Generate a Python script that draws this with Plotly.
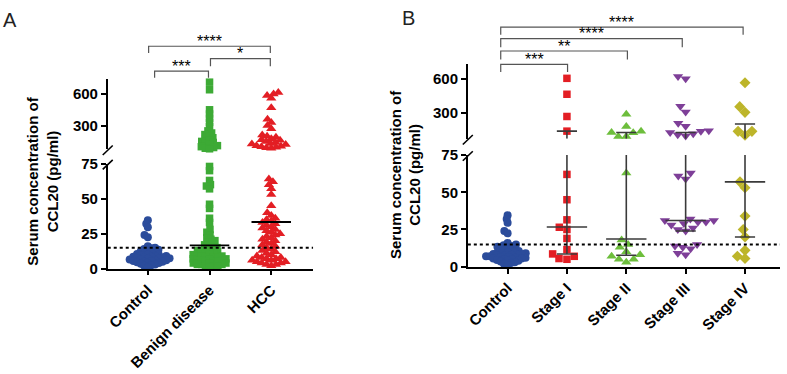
import numpy as np
import plotly.graph_objects as go

W, H = 787, 374

# ---------------- data ----------------
groups_a = ["Control", "Benign disease", "HCC"]
groups_b = ["Control", "Stage I", "Stage II", "Stage III", "Stage IV"]

control = [34.5, 32, 29.5, 24, 22.5, 16, 15, 14.5, 14, 13.5, 13, 12.5, 12, 11.5, 11,
           10.5, 10, 10, 9.5, 9, 9, 8.5, 8.5, 8, 8, 7.5, 7.5, 7, 7, 6.5, 6.5, 6, 6,
           5.5, 5.5, 5, 5, 4.5, 4, 4, 3.5, 3, 2.5, 2, 1]
benign = [712, 640, 450, 410, 370, 330, 290, 250, 230, 215, 200, 185, 175, 160, 150,
          140, 130, 120, 110, 100, 92, 85, 80,
          73, 70, 63, 60, 59, 57, 46, 43, 36, 33, 28, 26, 24, 22, 21, 20, 19, 18, 17,
          16, 15, 15, 14, 13, 13, 12, 12, 11, 11, 10, 10, 9, 9, 9, 8, 8, 8, 7, 7, 7,
          6, 6, 6, 5, 5, 5, 4, 4, 4, 3, 3, 3, 2, 2, 1.5, 1]
hcc = [615, 600, 585, 560, 470, 360, 330, 300, 270, 210, 200, 190, 175, 165, 160, 150,
       140, 130, 125, 120, 110, 105, 100, 95, 90, 85,
       64, 62, 60, 57, 53, 45, 40, 38, 36, 35, 34, 33, 32, 31, 30, 29, 28, 27, 26, 25,
       24, 23, 22, 21, 20, 19, 18, 17, 16, 15, 14, 13, 12, 11, 10, 9, 8, 8, 7, 7, 6,
       6, 5, 5, 4, 4, 3, 3, 2]
median_a = [8.5, 16.6, 33.3]

stage1 = [603, 464, 270, 142, 62, 45, 31.5, 26.5, 25, 19, 11.5, 8.6, 5, 5.5, 7]
stage2 = [290, 183, 140, 130, 128, 95, 95, 63, 18, 15, 13, 10, 8, 7, 5, 5, 3]
stage3 = [620, 600, 360, 310, 210, 185, 145, 140, 130, 120, 110, 100, 63, 61, 59, 32,
          31, 31, 30, 30, 29, 28, 26, 25, 24, 15, 14, 13, 12, 9, 8]
stage4 = [564, 356, 306, 140, 140, 107, 57, 53, 34, 25, 20, 11, 7, 5.5]
median_b = [8.5, 26.7, 18.6, 31.0, 57.0]
q1_b = [5.5, 8.6, 7.7, 24.0, 20.0]
q3_b = [12.0, 142.0, 130.0, 130.0, 204.0]

cutoff = 15.0
sig_a = ["***", "*", "****"]
sig_b = ["***", "**", "****", "****"]

lower_ticks = [0, 25, 50, 75]
upper_ticks = [300, 600]
BREAK = 75

# ---------------- geometry ----------------
def px(x):
    return x / W


def py(y):
    return 1 - y / H

A = dict(x0=106, x1=312, lo_b=272, lo_t=162, up_b=147, up_t=73, xr=[-0.65, 2.68], upmax=745)
B = dict(x0=467, x1=780, lo_b=270, lo_t=153, up_b=136, up_t=58, xr=[-0.67, 4.59], upmax=725)


def val_to_pix(v, P):
    if v < BREAK:
        return P["lo_b"] - v * (P["lo_b"] - P["lo_t"]) / BREAK
    return P["up_b"] - (v - BREAK) * (P["up_b"] - P["up_t"]) / (P["upmax"] - BREAK)


def swarm(values, P, dist):
    ys = np.array([val_to_pix(v, P) for v in values])
    order = np.argsort(-ys)
    xs = np.zeros(len(values))
    placed = []
    for i in order:
        y = ys[i]
        cands = [0.0]
        ivs = []
        for (qx, qy) in placed:
            dy = abs(y - qy)
            if dy < dist:
                w = np.sqrt(dist ** 2 - dy ** 2)
                ivs.append((qx - w, qx + w))
                cands += [qx - w, qx + w]
        cands = sorted(cands, key=lambda c: (abs(c), c))
        for c in cands:
            if all(not (a + 1e-6 < c < b - 1e-6) for a, b in ivs):
                xs[i] = c
                break
        placed.append((xs[i], y))
    ppu = (P["x1"] - P["x0"]) / (P["xr"][1] - P["xr"][0])
    return xs / ppu


fig = go.Figure()


def add_group(values, gi, P, xa, ylo, yup, color, symbol, size, dist):
    offs = swarm(values, P, dist)
    v = np.array(values, dtype=float)
    x = gi + offs
    lo = v < BREAK
    mk = dict(color=color, symbol=symbol, size=size, line=dict(width=0))
    fig.add_trace(go.Scatter(x=x[lo], y=v[lo], mode="markers", marker=mk, xaxis=xa, yaxis=ylo,
                             cliponaxis=False, showlegend=False, hoverinfo="y"))
    if (~lo).any():
        fig.add_trace(go.Scatter(x=x[~lo], y=v[~lo], mode="markers", marker=mk, xaxis=xa, yaxis=yup,
                                 cliponaxis=False, showlegend=False, hoverinfo="y"))


def seg(xa, ya, xs, ys, color="black", width=1.6, dash=None):
    fig.add_trace(go.Scatter(x=xs, y=ys, mode="lines", xaxis=xa, yaxis=ya, cliponaxis=False,
                             line=dict(color=color, width=width, dash=dash),
                             showlegend=False, hoverinfo="skip"))

# ---------------- panel A ----------------
BLUE = "#2B4C9B"
seg("x", "y", [-0.32, 0.32], [median_a[0]] * 2)
add_group(control, 0, A, "x", "y", "y2", BLUE, "circle", 8, 4.0)
add_group(benign, 1, A, "x", "y", "y2", "#3DAA35", "square", 7.5, 4.3)
add_group(hcc, 2, A, "x", "y", "y2", "#E31E24", "triangle-up", 9, 5.0)
for gi in (1, 2):
    seg("x", "y", [gi - 0.32, gi + 0.32], [median_a[gi]] * 2, width=1.8)
seg("x", "y", A["xr"], [cutoff, cutoff], width=2, dash="dot")

# ---------------- panel B ----------------
colors_b = [BLUE, "#E31E24", "#6DBE3C", "#7E3F98", "#BDB52A"]
symbols_b = ["circle", "square", "triangle-up", "triangle-down", "diamond"]
sizes_b = [8, 7.5, 9, 9, 8.5]
data_b = [control, stage1, stage2, stage3, stage4]
GR = "#3a3a3a"
seg("x2", "y3", [-0.34, 0.34], [median_b[0]] * 2, color=GR)
seg("x2", "y3", [0, 0], [q1_b[0], q3_b[0]], color=GR)
for gi, vals in enumerate(data_b):
    add_group(vals, gi, B, "x2", "y3", "y4", colors_b[gi], symbols_b[gi], sizes_b[gi],
              4.0 if gi == 0 else 8)
for gi in range(1, 5):
    m, a, b = median_b[gi], q1_b[gi], q3_b[gi]
    seg("x2", "y3", [gi - 0.34, gi + 0.34], [m, m], color=GR)
    seg("x2", "y3", [gi - 0.17, gi + 0.17], [a, a], color=GR)
    seg("x2", "y3", [gi, gi], [a, min(b, BREAK)], color=GR)
    if b > BREAK:
        seg("x2", "y4", [gi, gi], [BREAK, b], color=GR)
        seg("x2", "y4", [gi - 0.17, gi + 0.17], [b, b], color=GR)
seg("x2", "y3", B["xr"], [cutoff, cutoff], width=2, dash="dot")

# ---------------- axes ----------------
FONT = "Liberation Sans, Arial"
tickfont = dict(family=FONT, size=15, color="black", weight="bold")
xtickfont = dict(family=FONT, size=15, color="black", weight="bold")
axcommon = dict(showline=True, linecolor="black", linewidth=1.6, ticks="outside", ticklen=5,
                tickwidth=1.6, tickcolor="black", showgrid=False, zeroline=False,
                tickfont=tickfont)

fig.update_layout(
    width=W, height=H, margin=dict(l=0, r=0, t=0, b=0), autosize=False,
    paper_bgcolor="white", plot_bgcolor="white", hovermode=False,
    xaxis=dict(axcommon, domain=[px(A["x0"]), px(A["x1"])], range=A["xr"], anchor="y",
               tickvals=list(range(len(groups_a))), ticktext=groups_a, tickangle=-45,
               tickfont=xtickfont),
    yaxis=dict(axcommon, domain=[py(A["lo_b"]), py(A["lo_t"])], range=[0, BREAK], anchor="x",
               tickvals=lower_ticks),
    yaxis2=dict(axcommon, domain=[py(A["up_b"]), py(A["up_t"])], range=[BREAK, A["upmax"]],
                anchor="x", tickvals=upper_ticks),
    xaxis2=dict(axcommon, domain=[px(B["x0"]), px(B["x1"])], range=B["xr"], anchor="y3",
                tickvals=list(range(len(groups_b))), ticktext=groups_b, tickangle=-45,
                tickfont=xtickfont),
    yaxis3=dict(axcommon, domain=[py(B["lo_b"]), py(B["lo_t"])], range=[0, BREAK], anchor="x2",
                tickvals=lower_ticks),
    yaxis4=dict(axcommon, domain=[py(B["up_b"]), py(B["up_t"])], range=[BREAK, B["upmax"]],
                anchor="x2", tickvals=upper_ticks),
)

# ---------------- break marks ----------------
shapes = []
for P in (A, B):
    for yc in (P["up_b"] + 1, P["lo_t"] + 1):
        shapes.append(dict(type="line", xref="paper", yref="paper",
                           x0=px(P["x0"] - 5), y0=py(yc + 5), x1=px(P["x0"] + 5), y1=py(yc - 5),
                           line=dict(color="black", width=1.6)))

# ---------------- significance brackets ----------------
BR = "#555555"
brackets_a = [(153, 207, 65, 72, sig_a[0]), (209, 269, 52, 60, sig_a[1]), (147, 269, 39, 46, sig_a[2])]
brackets_b = [(500, 567, 58, 66, sig_b[0]), (500, 627, 44, 53, sig_b[1]),
              (500, 682, 31, 40, sig_b[2]), (500, 743, 19, 27, sig_b[3])]
annotations = []
for (xl, xr_, yb, yd, txt) in brackets_a + brackets_b:
    path = "M {} {} L {} {} L {} {} L {} {}".format(px(xl), py(yd), px(xl), py(yb), px(xr_), py(yb), px(xr_), py(yd))
    shapes.append(dict(type="path", xref="paper", yref="paper", path=path,
                       line=dict(color=BR, width=1.2)))
    annotations.append(dict(x=px((xl + xr_) / 2), y=py(yb + 6), xref="paper", yref="paper",
                            text=txt, showarrow=False, yanchor="bottom", xanchor="center",
                            font=dict(family=FONT, size=16, color="black")))

annotations.append(dict(x=px(8), y=py(12), xref="paper", yref="paper", text="A", showarrow=False,
                        xanchor="center", yanchor="middle",
                        font=dict(family=FONT, size=20, color="#222")))
annotations.append(dict(x=px(408), y=py(9), xref="paper", yref="paper", text="B", showarrow=False,
                        xanchor="center", yanchor="middle",
                        font=dict(family=FONT, size=20, color="#222")))
for xc, yc in ((41, 180), (404, 173)):
    annotations.append(dict(x=px(xc), y=py(yc), xref="paper", yref="paper",
                            xanchor="center", yanchor="middle",
                            text="Serum concentration of<br>CCL20 (pg/ml)", showarrow=False,
                            textangle=-90,
                            font=dict(family=FONT, size=15, color="black", weight="bold")))

fig.update_layout(shapes=shapes, annotations=annotations)
fig.write_html("out.html", config={"displayModeBar": False},
               post_script="document.body.style.margin='0';document.body.style.overflow='hidden';")
